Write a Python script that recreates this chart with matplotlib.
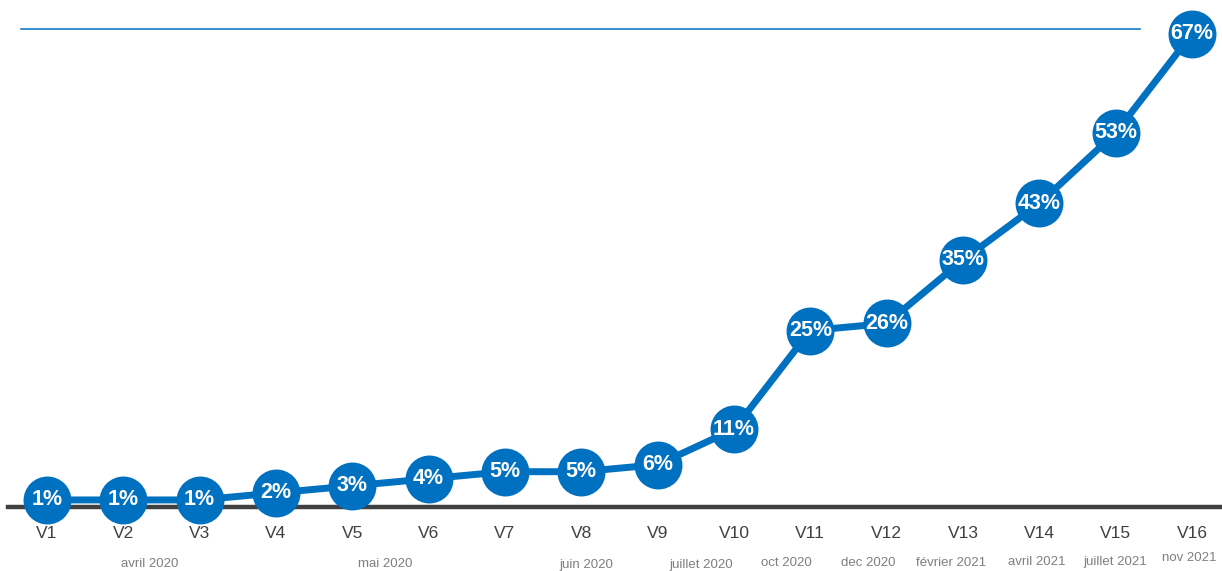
import matplotlib.pyplot as plt
from matplotlib.transforms import blended_transform_factory

plt.rcParams['font.family'] = ['Liberation Sans', 'DejaVu Sans']

versions = ['V%d' % i for i in range(1, 17)]
pct = [1, 1, 1, 2, 3, 4, 5, 5, 6, 11, 25, 26, 35, 43, 53, 67]

months = ['avril 2020', 'mai 2020', 'juin 2020', 'juillet 2020', 'oct 2020',
          'dec 2020', 'février 2021', 'avril 2021', 'juillet 2021', 'nov 2021']
# where the month labels sit (x in version index, y in pixels from top)
month_x = [1.35, 4.43, 7.06, 8.57, 9.68, 10.76, 11.84, 12.97, 13.99, 14.97]
month_ypx = [564, 564, 565, 565, 563, 563, 563, 562, 562, 558]

blue = '#0070C0'
W, H = 1222, 571
px_per_pct = 7.06

fig = plt.figure(figsize=(W / 100, H / 100), dpi=100)
ax = fig.add_axes([8 / W, (H - 507) / H, 1214 / W, 507 / H])

x = list(range(len(versions)))
ax.plot(x, pct, color=blue, lw=5, marker='o', ms=33.5, mec=blue, mfc=blue,
        clip_on=False, zorder=5, solid_capstyle='butt')
for xi, v in zip(x, pct):
    ax.text(xi, v, '%d%%' % v, ha='center', va='center', color='white',
            fontsize=15.5, fontweight='bold', zorder=6, clip_on=False)

x0 = 47
step = (1192 - 47) / 15
ax.set_xlim(-(x0 - 8) / step, (1222 - 8 - (x0 - 8)) / step)
ax.set_ylim(0, 507 / px_per_pct)

# thin blue line near the top
ax.axhline((507 - 29) / px_per_pct, xmin=(21 - 8) / 1214, xmax=(1140 - 8) / 1214,
           color=blue, lw=1.1)

for s in ['top', 'left', 'right']:
    ax.spines[s].set_visible(False)
ax.spines['bottom'].set_color('#404040')
ax.spines['bottom'].set_linewidth(3.2)
ax.spines['bottom'].set_zorder(2)
ax.set_yticks([])
ax.set_xticks(x)
ax.set_xticklabels(versions, fontsize=12.5, color='#404040')
ax.tick_params(axis='x', length=0, pad=14)

tr = blended_transform_factory(ax.transData, fig.transFigure)
for m, mx, my in zip(months, month_x, month_ypx):
    ax.text(mx, 1 - my / H, m, transform=tr, ha='center', va='center',
            fontsize=9.5, color='#7f7f7f')

fig.savefig('out.png', dpi=100)
